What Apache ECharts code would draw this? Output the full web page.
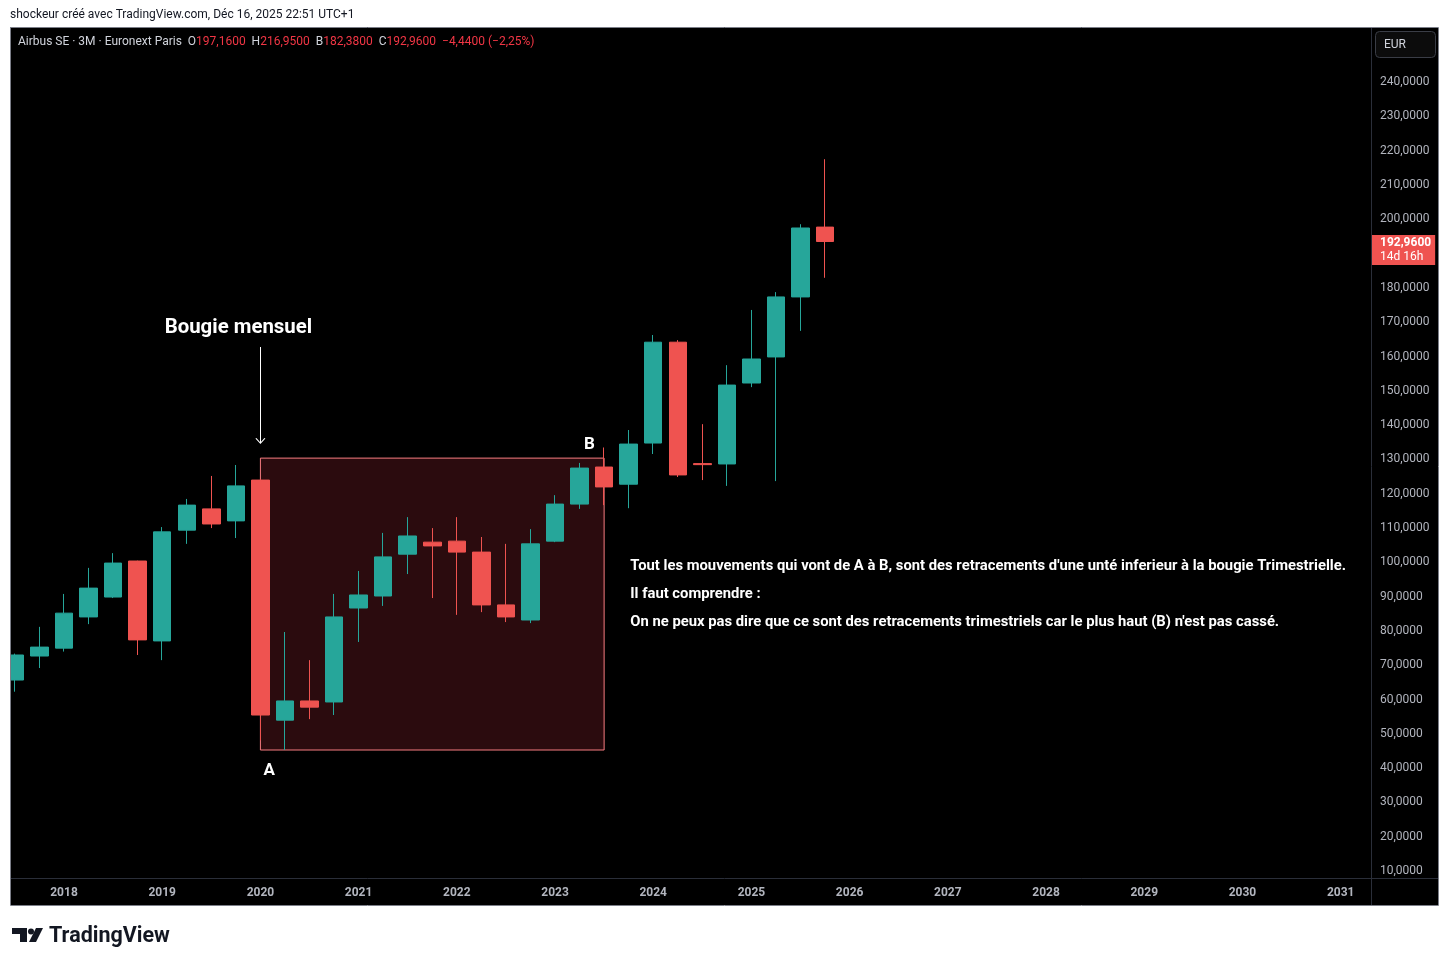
<!DOCTYPE html>
<html><head><meta charset="utf-8">
<script src="https://cdn.jsdelivr.net/npm/echarts@6/dist/echarts.min.js"></script>
<style>html,body{margin:0;padding:0;background:#fff;}#c{width:1449px;height:966px;}</style>
</head><body><div id="c"></div>
<script>
// ---- DATA ----
const quarters = ['2017-Q3','2017-Q4','2018-Q1','2018-Q2','2018-Q3','2018-Q4','2019-Q1','2019-Q2','2019-Q3','2019-Q4',
  '2020-Q1','2020-Q2','2020-Q3','2020-Q4','2021-Q1','2021-Q2','2021-Q3','2021-Q4','2022-Q1','2022-Q2','2022-Q3','2022-Q4',
  '2023-Q1','2023-Q2','2023-Q3','2023-Q4','2024-Q1','2024-Q2','2024-Q3','2024-Q4','2025-Q1','2025-Q2','2025-Q3','2025-Q4'];
const opens  = [65.1,72.1,74.4,83.5,89.3,99.8,76.5,108.8,115.0,111.5,
  123.4,53.4,59.0,58.7,86.1,89.6,101.8,105.3,105.6,102.4,87.0,82.6,
  105.6,116.4,127.2,122.2,134.2,163.6,128.2,128.1,151.7,159.3,176.8,197.16];
const closes = [72.4,74.7,84.6,91.9,99.2,76.8,108.3,116.1,110.6,121.7,
  54.9,59.0,57.2,83.5,89.9,101.0,107.1,104.2,102.4,87.0,83.5,104.8,
  116.4,126.9,121.4,133.9,163.6,124.9,127.9,151.1,158.7,176.8,196.9,192.96];
const lows   = [61.7,68.6,73.4,81.4,89.0,72.4,70.9,104.8,109.4,106.5,
  47.5,44.7,53.7,54.9,76.2,86.7,96.0,89.0,84.1,84.9,82.0,81.7,
  105.3,115.0,116.1,115.2,131.0,124.3,123.4,121.7,150.5,123.1,166.9,182.38];
const highs  = [72.8,80.6,90.2,97.8,102.1,99.9,109.7,117.9,124.6,127.8,
  123.6,79.1,70.9,90.2,96.9,108.0,112.6,109.4,112.6,106.8,104.8,109.1,
  119.0,128.4,132.9,138.0,165.7,164.2,139.7,156.9,173.0,178.2,198.0,216.95];
const yearTicks  = [2018,2019,2020,2021,2022,2023,2024,2025,2026,2027,2028,2029,2030,2031];
const priceTicks = [10,20,30,40,50,60,70,80,90,100,110,120,130,140,150,160,170,180,190,200,210,220,230,240];
// annotation anchors (quarter / price)
const boxStart = '2020-Q1', boxEnd = '2023-Q3', boxLow = 44.7, boxHigh = 129.8;
const labelA = ['2020-Q1', 38.6, 0.09], labelB = ['2023-Q2', 133.6, 0.1];
const arrowQuarter = '2020-Q1', arrowFrom = 162.2, arrowTo = 134.2;
const titleAnchor = ['2019-Q4', 167.7, 0.026];
const noteAnchor = ['2023-Q4', 90.2, 0.016];
const noteLines = [
  "Tout les mouvements qui vont de A à B, sont des retracements d'une unté inferieur à la bougie Trimestrielle.",
  "Il faut comprendre :",
  "On ne peux pas dire que ce sont des retracements trimestriels car le plus haut (B) n'est pas cassé."
];
const header = {name:'Airbus SE · 3M · Euronext Paris', o:'197,1600', h:'216,9500', b:'182,3800', c:'192,9600', chg:'−4,4400 (−2,25%)'};
const countdown = '14d 16h';

// ---- CHART ----
const GREEN = '#26a69a', RED = '#ef5350';
const xOf = q => { const p = q.split('-Q'); return +p[0] + (+p[1] - 1) / 4; };
const fmt = v => v.toFixed(4).replace('.', ',');
const candleData = quarters.map((q, i) => [xOf(q), opens[i], closes[i], lows[i], highs[i]]);
const lastClose = closes[closes.length - 1];
const FONT = 'Roboto, "Liberation Sans", sans-serif';

const chart = echarts.init(document.getElementById('c'), null, {renderer: 'canvas'});
chart.setOption({
  animation: false,
  backgroundColor: '#ffffff',
  grid: {left: 10, right: 78, top: 27, bottom: 88},
  xAxis: {
    type: 'value', min: 2017.4501, max: 2031.309,
    axisLine: {show: false}, axisTick: {show: false}, splitLine: {show: false},
    axisLabel: {customValues: yearTicks, color: '#b2b5be', fontWeight: 'bold', fontSize: 12,
      fontFamily: FONT, margin: 9, formatter: v => String(Math.round(v))}
  },
  yAxis: {
    type: 'value', position: 'right', min: 7.38, max: 255.5,
    axisLine: {show: false}, axisTick: {show: false}, splitLine: {show: false},
    axisLabel: {customValues: priceTicks, color: '#b2b5be', fontSize: 12, fontFamily: FONT,
      margin: 9, align: 'left', formatter: v => '{v|' + fmt(v) + '}',
      rich: {v: {color: '#b2b5be', fontSize: 12, fontFamily: FONT, padding: [4, 0, 0, 0]}}}
  },
  graphic: [
    {type: 'rect', z: -10, shape: {x: 10, y: 27, width: 1428, height: 878}, style: {fill: '#000000'}},
    {type: 'rect', z: 99, shape: {x: 0, y: 27, width: 10.5, height: 879}, style: {fill: '#ffffff'}},
    {type: 'rect', z: 100, shape: {x: 10.5, y: 27.5, width: 1428, height: 878}, style: {fill: null, stroke: '#7b7e88', lineWidth: 1}},
    {type: 'line', z: 100, shape: {x1: 1371.5, y1: 28, x2: 1371.5, y2: 905}, style: {stroke: '#2a2e39', lineWidth: 1}},
    {type: 'line', z: 100, shape: {x1: 11, y1: 878.5, x2: 1438, y2: 878.5}, style: {stroke: '#2a2e39', lineWidth: 1}},
    {type: 'rect', z: 100, shape: {x: 1375.5, y: 31.5, width: 60, height: 26, r: 4}, style: {fill: '#0c0c0c', stroke: '#3a3d46', lineWidth: 1}},
    {type: 'text', z: 101, x: 1384, y: 45, style: {text: 'EUR', fill: '#d1d4dc', font: '12px ' + FONT, textVerticalAlign: 'middle'}},
    {type: 'text', z: 101, x: 10, y: 15, style: {text: 'shockeur créé avec TradingView.com, Déc 16, 2025 22:51 UTC+1', fill: '#131722', font: '12px ' + FONT, textVerticalAlign: 'middle'}},
    {type: 'text', z: 101, x: 18, y: 42, style: {
      text: '{n|' + header.name + '}  {g|O}{r|' + header.o + '}  {g|H}{r|' + header.h + '}  {g|B}{r|' + header.b + '}  {g|C}{r|' + header.c + '}  {r|' + header.chg + '}',
      textVerticalAlign: 'middle', font: '12px ' + FONT,
      rich: {n: {fill: '#d1d4dc', font: '12px ' + FONT}, g: {fill: '#d1d4dc', font: '12px ' + FONT}, r: {fill: '#f23645', font: '12px ' + FONT}}
    }},
    // TradingView logo
    {type: 'polygon', z: 101, shape: {points: [[12,928],[27,928],[27,942],[20,942],[20,934],[12,934]]}, style: {fill: '#131722'}},
    {type: 'circle', z: 101, shape: {cx: 31, cy: 931.5, r: 3}, style: {fill: '#131722'}},
    {type: 'polygon', z: 101, shape: {points: [[36,928],[43,928],[36,942],[29,942]]}, style: {fill: '#131722'}},
    {type: 'text', z: 101, x: 49, y: 937, style: {text: 'TradingView', fill: '#131722', font: 'bold 21.5px ' + FONT, textVerticalAlign: 'middle'}}
  ],
  series: [
    {
      type: 'candlestick', name: 'Airbus SE', data: candleData, barWidth: 18, z: 3,
      itemStyle: {color: GREEN, color0: RED, borderColor: GREEN, borderColor0: RED, borderWidth: 1},
      markArea: {
        silent: true, z: 1,
        itemStyle: {color: '#2b0b0e', borderColor: '#f77c80', borderWidth: 1},
        data: [[{coord: [xOf(boxStart), boxLow]}, {coord: [xOf(boxEnd), boxHigh]}]]
      }
    },
    {
      type: 'line', name: 'annotations', data: [], clip: false, z: 5,
      markLine: {
        silent: true, animation: false, symbol: 'none',
        data: [
          [{coord: [xOf(arrowQuarter), arrowFrom], symbol: 'none'},
           {coord: [xOf(arrowQuarter), arrowTo], symbol: 'path://M0,6 L5,0 L10,6 L9,6.6 L5,1.6 L1,6.6 Z', symbolSize: [10, 6], symbolOffset: [0, 2]}]
        ],
        lineStyle: {color: '#ffffff', width: 1, type: 'solid'},
        itemStyle: {color: '#ffffff'},
        label: {show: false}
      },
      markPoint: {
        silent: true, symbol: 'circle', symbolSize: 1, itemStyle: {color: 'rgba(0,0,0,0)'},
        data: [
          {coord: [xOf(labelA[0]) + labelA[2], labelA[1]], label: {show: true, position: 'inside', formatter: 'A', color: '#fff', fontSize: 17, fontWeight: 'bold', fontFamily: FONT}},
          {coord: [xOf(labelB[0]) + labelB[2], labelB[1]], label: {show: true, position: 'inside', formatter: 'B', color: '#fff', fontSize: 17, fontWeight: 'bold', fontFamily: FONT}},
          {coord: [xOf(titleAnchor[0]) + titleAnchor[2], titleAnchor[1]], label: {show: true, position: 'inside', formatter: 'Bougie mensuel', color: '#fff', fontSize: 20.4, fontWeight: 'bold', fontFamily: FONT}},
          {coord: [xOf(noteAnchor[0]) + noteAnchor[2], noteAnchor[1]], label: {show: true, position: 'inside', align: 'left', verticalAlign: 'middle', lineHeight: 28, formatter: noteLines.join('\n'), color: '#fff', fontSize: 14.8, fontWeight: 'bold', fontFamily: FONT}}
        ]
      }
    },
    {
      type: 'line', name: 'price', data: [], clip: false, z: 6,
      markLine: {
        silent: true, symbol: 'none',
        data: [{yAxis: lastClose}],
        lineStyle: {color: 'rgba(0,0,0,0)', width: 0.1},
        label: {show: true, position: 'end', distance: 1, offset: [0, 8.5], formatter: '{a|' + fmt(lastClose) + '}\n{b|' + countdown + '}',
          backgroundColor: RED, padding: [1, 4, 1, 8], color: '#fff',
          rich: {a: {color: '#fff', fontWeight: 'bold', fontSize: 12, fontFamily: FONT, lineHeight: 14},
                 b: {color: '#fff', fontSize: 12, fontFamily: FONT, lineHeight: 14}}}
      }
    }
  ]
});
</script></body></html>
